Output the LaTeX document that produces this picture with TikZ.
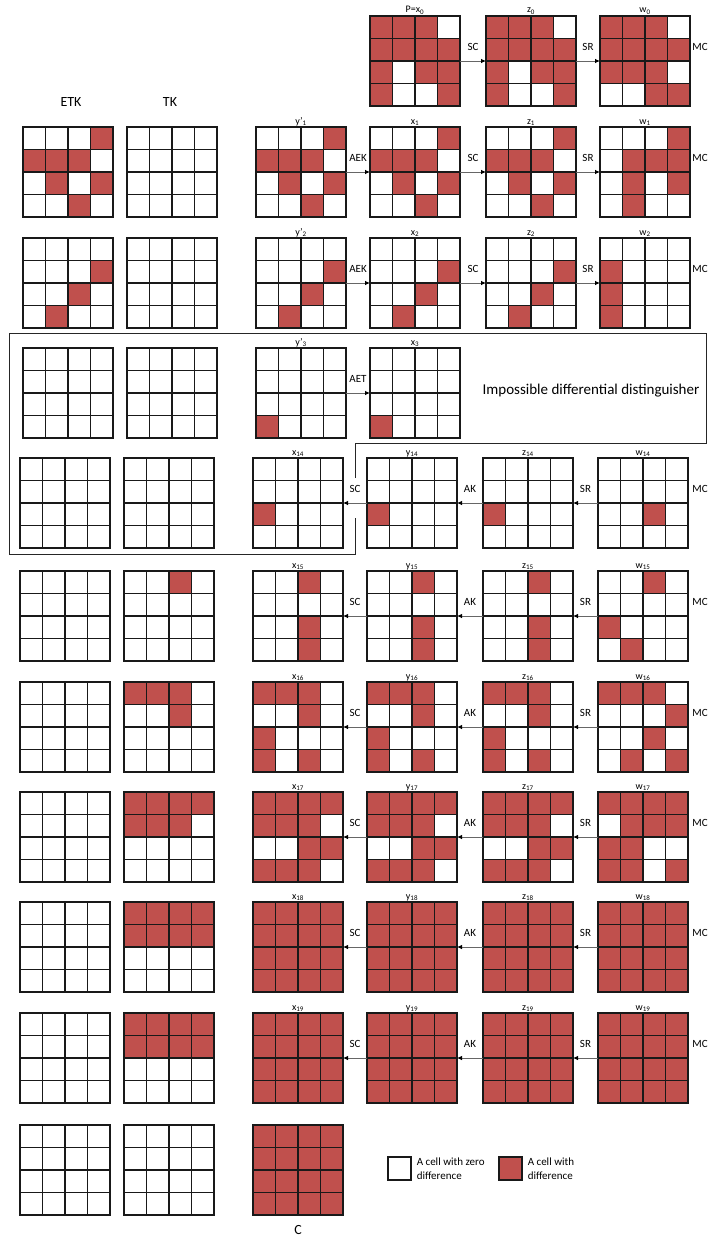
\documentclass[tikz,border=0pt]{standalone}
\usepackage{fontspec}
\setmainfont{Carlito}
\usetikzlibrary{arrows.meta,calc}
\definecolor{diffc}{RGB}{192,80,77}
\def\cellf#1#2#3#4#5{\ifnum#5=1 \fill[diffc] ({#1+#4*22.5},{#2+#3*22.5}) rectangle ++(22.5,22.5);\fi}
\def\rowf#1#2#3#4#5#6#7{\cellf{#1}{#2}{#3}{0}{#4}\cellf{#1}{#2}{#3}{1}{#5}\cellf{#1}{#2}{#3}{2}{#6}\cellf{#1}{#2}{#3}{3}{#7}}
\newcommand\mygrid[7]{%
  \node[gridbox] (#1) at ({#2+45},{#3+45}) {};
  \rowf{#2}{#3}{0}#4
  \rowf{#2}{#3}{1}#5
  \rowf{#2}{#3}{2}#6
  \rowf{#2}{#3}{3}#7
  \foreach \k in {1,2,3}{\draw[gline] ({#2+\k*22.5},#3) -- ++(0,90); \draw[gline] (#2,{#3+\k*22.5}) -- ++(90,0);}
  \draw[gline] (#2,#3) rectangle ++(90,90);
}
\newcommand\zgrid[3]{\mygrid{#1}{#2}{#3}{0000}{0000}{0000}{0000}}
\newcommand\fgrid[3]{\mygrid{#1}{#2}{#3}{1111}{1111}{1111}{1111}}
\newcommand\glab[2]{\node[glabel] (#1-lab) at ([yshift=3pt]#1.north) {#2};}
\begin{document}
\begin{tikzpicture}[x=1pt,y=-1pt,
  gridbox/.style={minimum width=90pt,minimum height=90pt,inner sep=0pt,outer sep=0pt,draw=none},
  gline/.style={draw=black!90,line width=1.1pt},
  glabel/.style={anchor=base,inner sep=0pt,font=\fontsize{10}{12}\selectfont},
  oplbl/.style={midway,yshift=14pt,inner sep=0pt,font=\fontsize{11}{13}\selectfont},
  mclbl/.style={inner sep=0pt,font=\fontsize{11}{13}\selectfont},
  biglbl/.style={inner sep=0pt,font=\fontsize{14}{16}\selectfont},
  arr/.style={draw=black!60,line width=0.8pt,-{Latex[length=5pt,width=4.5pt,color=black]}},
  boxline/.style={draw=black!85,line width=0.9pt}]
\useasboundingbox (0,0) rectangle (709,1239);

% ---------- column headers ----------
\node[biglbl] (etk) at (71,102) {ETK};
\node[biglbl] (tk) at (170,102) {TK};

% ---------- row 0 ----------
\mygrid{x0}{370}{16}{1110}{1111}{1011}{1001}
\mygrid{z0}{486}{16}{1110}{1111}{1011}{1001}
\mygrid{w0}{600}{16}{1110}{1111}{1110}{0011}
\glab{x0}{P=x\textsubscript{0}}
\glab{z0}{z\textsubscript{0}}
\glab{w0}{w\textsubscript{0}}
\draw[arr] (x0.east) -- node[oplbl] (op0a) {SC} (z0.west);
\draw[arr] (z0.east) -- node[oplbl] (op0b) {SR} (w0.west);
\node[mclbl] (mc0) at ([xshift=10pt,yshift=14pt]w0.east) {MC};

% ---------- row 1 ----------
\mygrid{etk1}{23}{127}{0001}{1110}{0101}{0010}
\zgrid{tk1}{127}{127}
\mygrid{yp1}{256}{127}{0001}{1110}{0101}{0010}
\mygrid{x1}{370}{127}{0001}{1110}{0101}{0010}
\mygrid{z1}{486}{127}{0001}{1110}{0101}{0010}
\mygrid{w1}{600}{127}{0001}{0111}{0101}{0100}
\glab{yp1}{y’\textsubscript{1}}
\glab{x1}{x\textsubscript{1}}
\glab{z1}{z\textsubscript{1}}
\glab{w1}{w\textsubscript{1}}
\draw[arr] (yp1.east) -- node[oplbl] (op1a) {AEK} (x1.west);
\draw[arr] (x1.east) -- node[oplbl] (op1b) {SC} (z1.west);
\draw[arr] (z1.east) -- node[oplbl] (op1c) {SR} (w1.west);
\node[mclbl] (mc1) at ([xshift=10pt,yshift=14pt]w1.east) {MC};

% ---------- row 2 ----------
\mygrid{etk2}{23}{238}{0000}{0001}{0010}{0100}
\zgrid{tk2}{127}{238}
\mygrid{yp2}{256}{238}{0000}{0001}{0010}{0100}
\mygrid{x2}{370}{238}{0000}{0001}{0010}{0100}
\mygrid{z2}{486}{238}{0000}{0001}{0010}{0100}
\mygrid{w2}{600}{238}{0000}{1000}{1000}{1000}
\glab{yp2}{y’\textsubscript{2}}
\glab{x2}{x\textsubscript{2}}
\glab{z2}{z\textsubscript{2}}
\glab{w2}{w\textsubscript{2}}
\draw[arr] (yp2.east) -- node[oplbl] (op2a) {AEK} (x2.west);
\draw[arr] (x2.east) -- node[oplbl] (op2b) {SC} (z2.west);
\draw[arr] (z2.east) -- node[oplbl] (op2c) {SR} (w2.west);
\node[mclbl] (mc2) at ([xshift=10pt,yshift=14pt]w2.east) {MC};

% ---------- distinguisher box ----------
\draw[boxline] (355,478) -- (355,443) -- (706,443) -- (706,333) -- (9.5,333) -- (9.5,554) -- (355,554) -- (355,518);
\node[biglbl,font=\fontsize{15}{17}\selectfont] (idd) at (591,391) {Impossible differential distinguisher};

% ---------- row 3 ----------
\zgrid{etk3}{23}{348}
\zgrid{tk3}{127}{348}
\mygrid{yp3}{256}{348}{0000}{0000}{0000}{1000}
\mygrid{x3}{370}{348}{0000}{0000}{0000}{1000}
\glab{yp3}{y’\textsubscript{3}}
\glab{x3}{x\textsubscript{3}}
\draw[arr] (yp3.east) -- node[oplbl] (op3a) {AET} (x3.west);

% ---------- row 14 ----------
\zgrid{etk14}{20}{458}
\zgrid{tk14}{124}{458}
\mygrid{x14}{253}{458}{0000}{0000}{1000}{0000}
\mygrid{y14}{367}{458}{0000}{0000}{1000}{0000}
\mygrid{z14}{483}{458}{0000}{0000}{1000}{0000}
\mygrid{w14}{598}{458}{0000}{0000}{0010}{0000}
\glab{x14}{x\textsubscript{14}}
\glab{y14}{y\textsubscript{14}}
\glab{z14}{z\textsubscript{14}}
\glab{w14}{w\textsubscript{14}}
\draw[arr] (w14.west) -- node[oplbl] (op14c) {SR} (z14.east);
\draw[arr] (z14.west) -- node[oplbl] (op14b) {AK} (y14.east);
\draw[arr] (y14.west) -- node[oplbl] (op14a) {SC} (x14.east);
\node[mclbl] (mc14) at ([xshift=12pt,yshift=14pt]w14.east) {MC};

% ---------- row 15 ----------
\zgrid{etk15}{20}{571}
\mygrid{tk15}{124}{571}{0010}{0000}{0000}{0000}
\mygrid{x15}{253}{571}{0010}{0000}{0010}{0010}
\mygrid{y15}{367}{571}{0010}{0000}{0010}{0010}
\mygrid{z15}{483}{571}{0010}{0000}{0010}{0010}
\mygrid{w15}{598}{571}{0010}{0000}{1000}{0100}
\glab{x15}{x\textsubscript{15}}
\glab{y15}{y\textsubscript{15}}
\glab{z15}{z\textsubscript{15}}
\glab{w15}{w\textsubscript{15}}
\draw[arr] (w15.west) -- node[oplbl] (op15c) {SR} (z15.east);
\draw[arr] (z15.west) -- node[oplbl] (op15b) {AK} (y15.east);
\draw[arr] (y15.west) -- node[oplbl] (op15a) {SC} (x15.east);
\node[mclbl] (mc15) at ([xshift=12pt,yshift=14pt]w15.east) {MC};

% ---------- row 16 ----------
\zgrid{etk16}{20}{682}
\mygrid{tk16}{124}{682}{1110}{0010}{0000}{0000}
\mygrid{x16}{253}{682}{1110}{0010}{1000}{1010}
\mygrid{y16}{367}{682}{1110}{0010}{1000}{1010}
\mygrid{z16}{483}{682}{1110}{0010}{1000}{1010}
\mygrid{w16}{598}{682}{1110}{0001}{0010}{0101}
\glab{x16}{x\textsubscript{16}}
\glab{y16}{y\textsubscript{16}}
\glab{z16}{z\textsubscript{16}}
\glab{w16}{w\textsubscript{16}}
\draw[arr] (w16.west) -- node[oplbl] (op16c) {SR} (z16.east);
\draw[arr] (z16.west) -- node[oplbl] (op16b) {AK} (y16.east);
\draw[arr] (y16.west) -- node[oplbl] (op16a) {SC} (x16.east);
\node[mclbl] (mc16) at ([xshift=12pt,yshift=14pt]w16.east) {MC};

% ---------- row 17 ----------
\zgrid{etk17}{20}{792}
\mygrid{tk17}{124}{792}{1111}{1110}{0000}{0000}
\mygrid{x17}{253}{792}{1111}{1110}{0011}{1110}
\mygrid{y17}{367}{792}{1111}{1110}{0011}{1110}
\mygrid{z17}{483}{792}{1111}{1110}{0011}{1110}
\mygrid{w17}{598}{792}{1111}{0111}{1100}{1101}
\glab{x17}{x\textsubscript{17}}
\glab{y17}{y\textsubscript{17}}
\glab{z17}{z\textsubscript{17}}
\glab{w17}{w\textsubscript{17}}
\draw[arr] (w17.west) -- node[oplbl] (op17c) {SR} (z17.east);
\draw[arr] (z17.west) -- node[oplbl] (op17b) {AK} (y17.east);
\draw[arr] (y17.west) -- node[oplbl] (op17a) {SC} (x17.east);
\node[mclbl] (mc17) at ([xshift=12pt,yshift=14pt]w17.east) {MC};

% ---------- row 18 ----------
\zgrid{etk18}{20}{902}
\mygrid{tk18}{124}{902}{1111}{1111}{0000}{0000}
\fgrid{x18}{253}{902}
\fgrid{y18}{367}{902}
\fgrid{z18}{483}{902}
\fgrid{w18}{598}{902}
\glab{x18}{x\textsubscript{18}}
\glab{y18}{y\textsubscript{18}}
\glab{z18}{z\textsubscript{18}}
\glab{w18}{w\textsubscript{18}}
\draw[arr] (w18.west) -- node[oplbl] (op18c) {SR} (z18.east);
\draw[arr] (z18.west) -- node[oplbl] (op18b) {AK} (y18.east);
\draw[arr] (y18.west) -- node[oplbl] (op18a) {SC} (x18.east);
\node[mclbl] (mc18) at ([xshift=12pt,yshift=14pt]w18.east) {MC};

% ---------- row 19 ----------
\zgrid{etk19}{20}{1013}
\mygrid{tk19}{124}{1013}{1111}{1111}{0000}{0000}
\fgrid{x19}{253}{1013}
\fgrid{y19}{367}{1013}
\fgrid{z19}{483}{1013}
\fgrid{w19}{598}{1013}
\glab{x19}{x\textsubscript{19}}
\glab{y19}{y\textsubscript{19}}
\glab{z19}{z\textsubscript{19}}
\glab{w19}{w\textsubscript{19}}
\draw[arr] (w19.west) -- node[oplbl] (op19c) {SR} (z19.east);
\draw[arr] (z19.west) -- node[oplbl] (op19b) {AK} (y19.east);
\draw[arr] (y19.west) -- node[oplbl] (op19a) {SC} (x19.east);
\node[mclbl] (mc19) at ([xshift=12pt,yshift=14pt]w19.east) {MC};

% ---------- ciphertext row ----------
\zgrid{etkc}{20}{1125}
\zgrid{tkc}{124}{1125}
\fgrid{cgrid}{253}{1125}
\node[biglbl,anchor=base] (clab) at ([yshift=-19pt]cgrid.south) {C};

% ---------- legend ----------
\node[draw=black!90,line width=1.1pt,fill=white,minimum size=23pt,inner sep=0pt] (legz) at (399.5,1168.5) {};
\node[mclbl,anchor=west,align=left,font=\fontsize{11}{14}\selectfont] (legzt) at ([xshift=5pt]legz.east) {A cell with zero\\difference};
\node[draw=black!90,line width=1.1pt,fill=diffc,minimum size=23pt,inner sep=0pt] (legd) at (510.5,1168.5) {};
\node[mclbl,anchor=west,align=left,font=\fontsize{11}{14}\selectfont] (legdt) at ([xshift=5pt]legd.east) {A cell with\\difference};
\end{tikzpicture}
\end{document}
